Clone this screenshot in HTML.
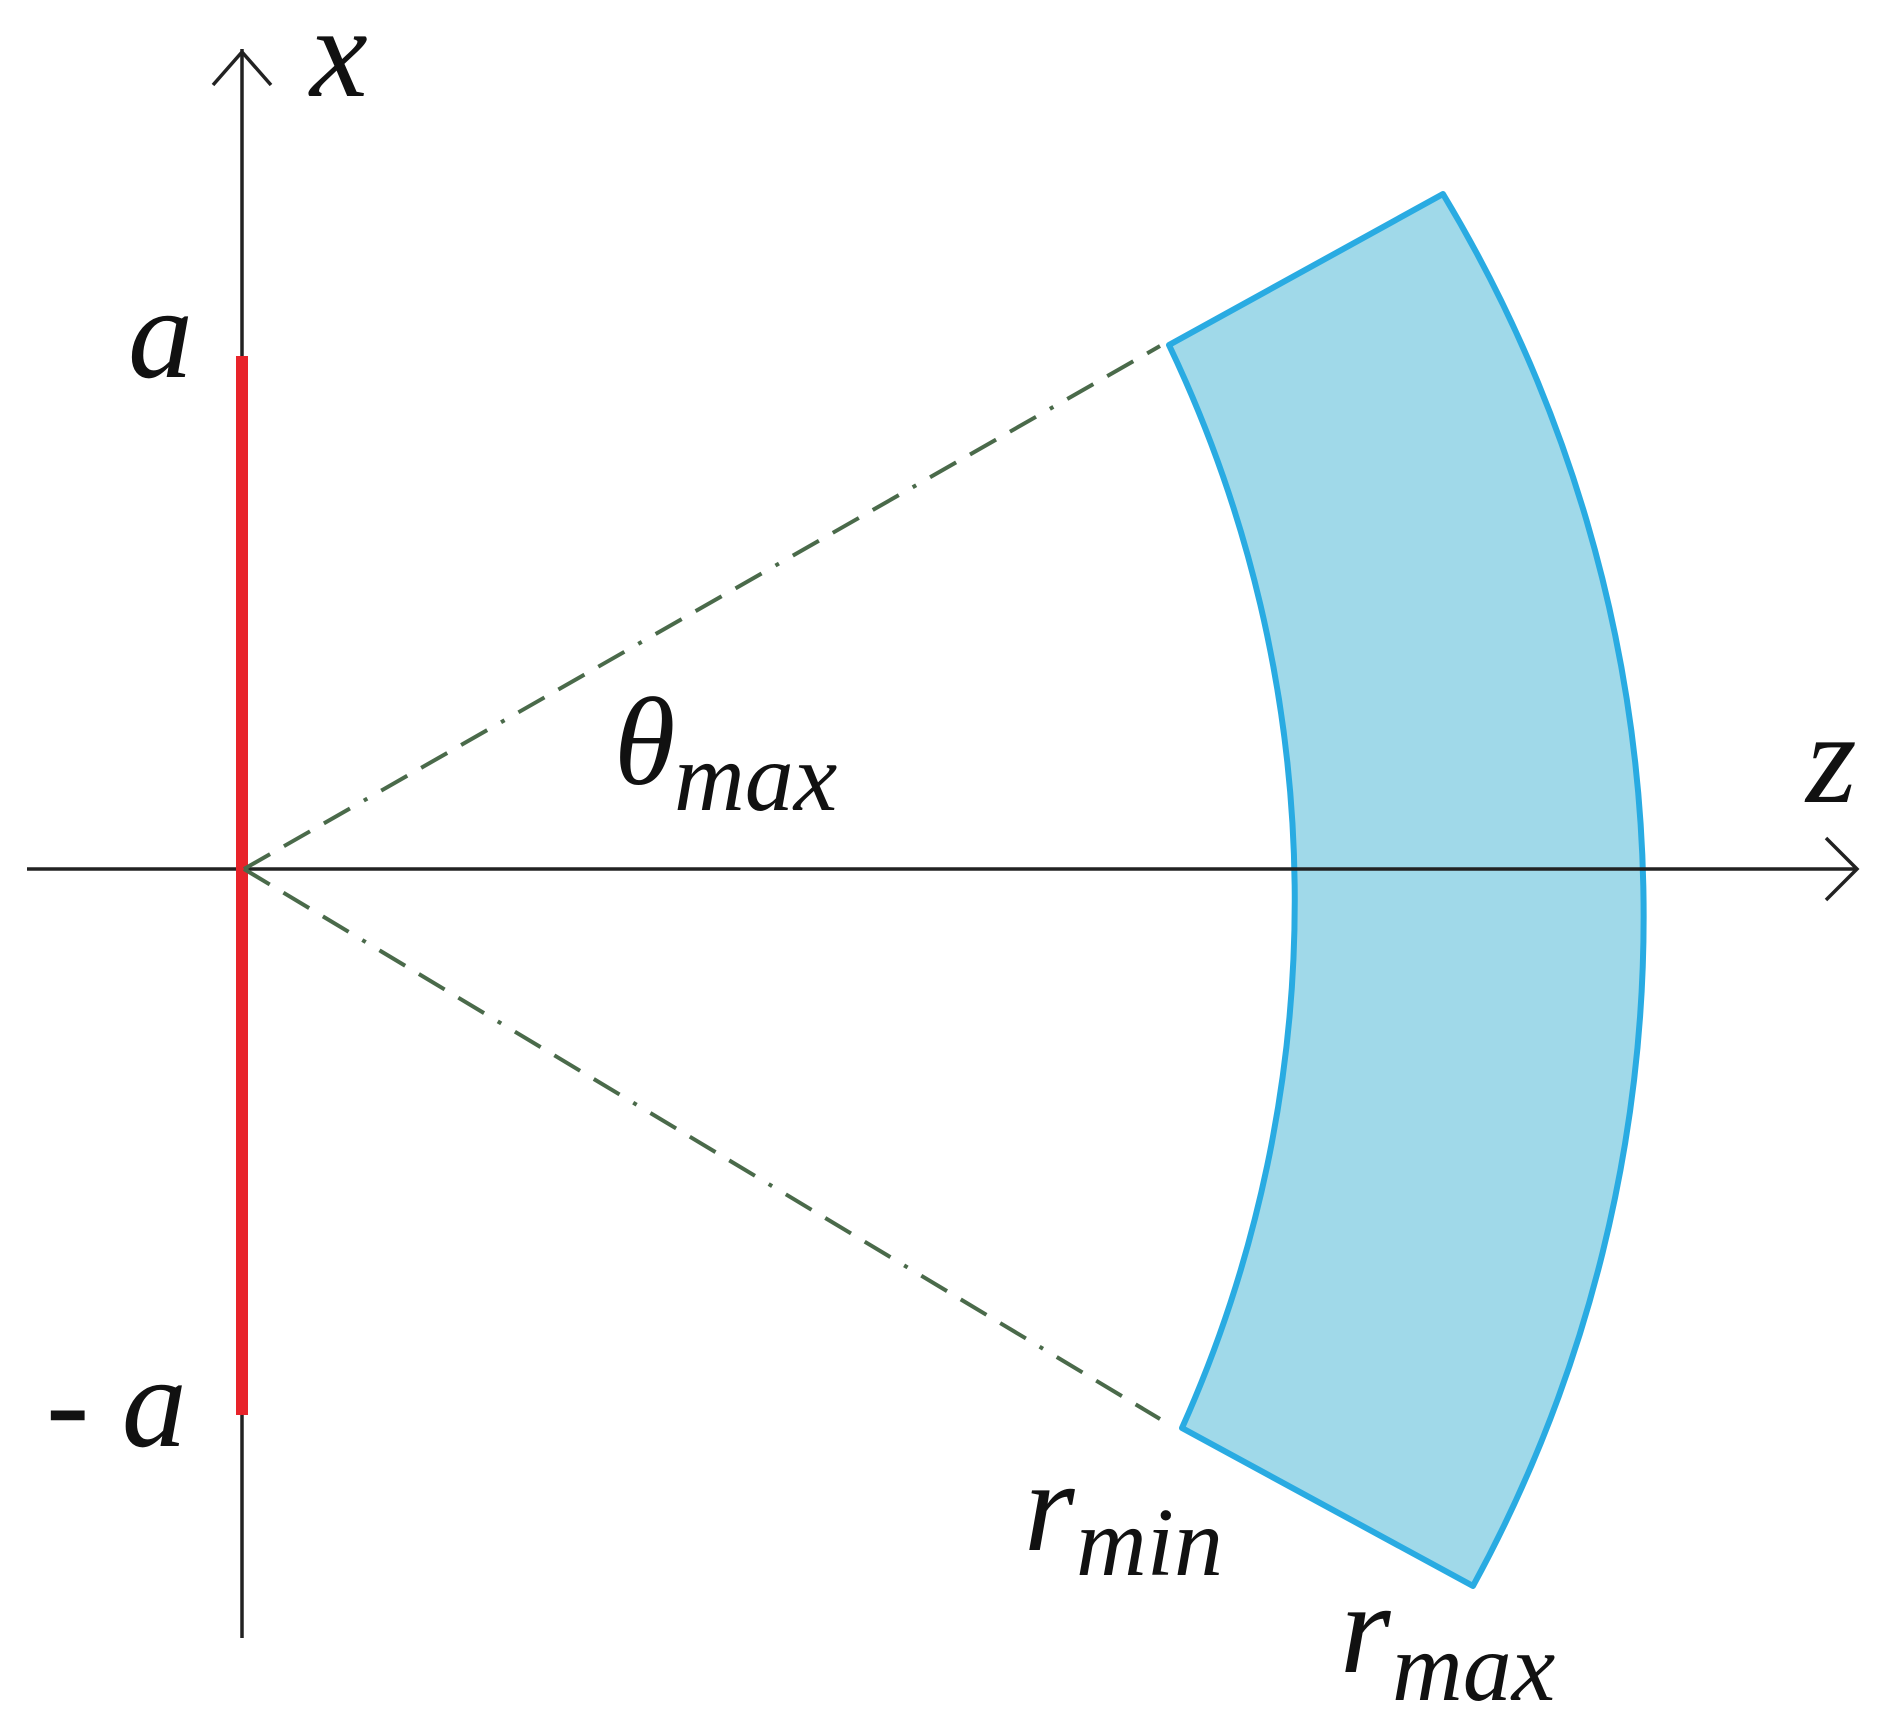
<!DOCTYPE html>
<html><head><meta charset="utf-8"><style>html,body{margin:0;padding:0;background:#fff}svg{display:block}</style></head>
<body>
<svg width="1895" height="1732" viewBox="0 0 1895 1732" xmlns="http://www.w3.org/2000/svg">
<path d="M1169,345 L1443,194 A1400,1400 0 0 1 1473,1586 L1182,1428 A1290,1290 0 0 0 1169,345 Z" fill="#a0d9e9" stroke="#29abe2" stroke-width="6" stroke-linejoin="round"/>
<line x1="242" y1="49" x2="242" y2="1638" stroke="#222" stroke-width="3.5"/>
<polyline points="213,85 242,52 271,85" fill="none" stroke="#222" stroke-width="3.5"/>
<line x1="27" y1="869" x2="1857" y2="869" stroke="#222" stroke-width="3.5"/>
<polyline points="1826,838 1857,869 1826,900" fill="none" stroke="#222" stroke-width="3.5"/>
<line x1="242" y1="356" x2="242" y2="1415" stroke="#e8232a" stroke-width="12"/>
<line x1="244" y1="869" x2="1160" y2="346" stroke="#4a6a4a" stroke-width="4" stroke-dasharray="30,16,30,16,30,16,4,16"/>
<line x1="244" y1="869" x2="1160" y2="1419" stroke="#4a6a4a" stroke-width="4" stroke-dasharray="30,16,30,16,30,16,4,16"/>
<g font-family="Liberation Serif, serif" font-style="italic" fill="#111">
<text x="310" y="96" font-size="130">x</text>
<text x="128" y="377" font-size="130">a</text>
<text x="46" y="1446" font-size="130">- a</text>
<text x="614" y="784" font-size="125">θ</text>
<text x="674" y="810" font-size="98">max</text>
<text x="1806" y="802" font-size="130">z</text>
<text x="1024" y="1550" font-size="130">r</text>
<text x="1076" y="1575" font-size="98">min</text>
<text x="1340" y="1672" font-size="130">r</text>
<text x="1392" y="1700" font-size="98">max</text>
</g>
</svg>
</body></html>
